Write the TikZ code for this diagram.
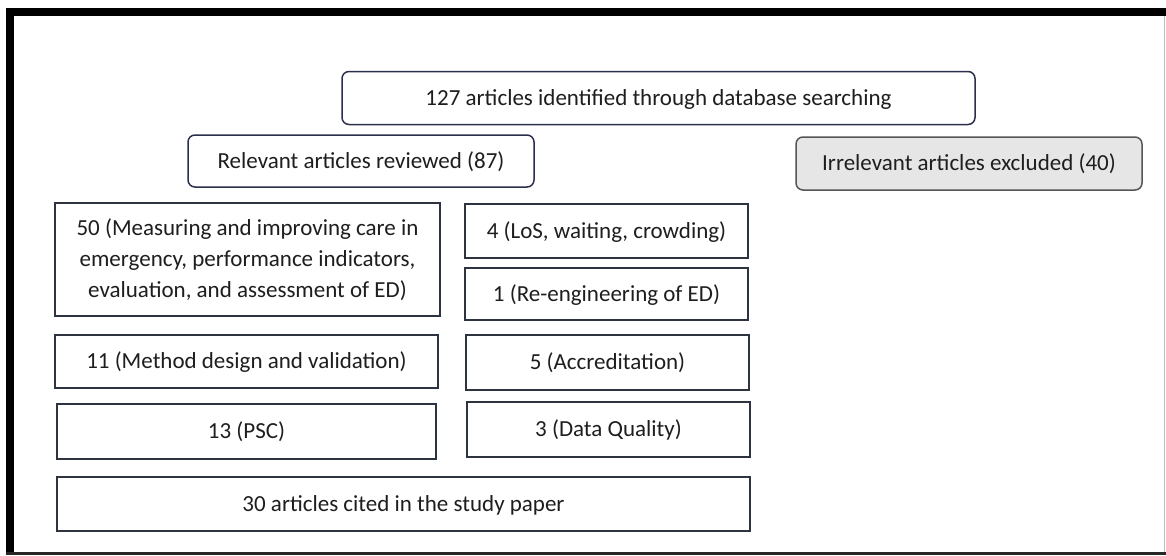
\documentclass[tikz,border=0pt]{standalone}
\usepackage{fontspec}
\setmainfont{Carlito}
\definecolor{navy}{HTML}{2B2F4C}
\definecolor{boxline}{HTML}{2E3340}
\definecolor{greyfill}{HTML}{E6E6E6}
\definecolor{greyline}{HTML}{555555}
\definecolor{txt}{HTML}{1E1E1E}
\tikzset{
  labeltext/.style={text=txt, inner sep=0pt, align=center,
    font=\fontsize{23}{31}\selectfont, text height=14.5pt, text depth=0pt},
  roundbox/.style={labeltext, draw=navy, line width=1.5pt, rounded corners=7pt, fill=white},
  greybox/.style={roundbox, draw=greyline, fill=greyfill},
  plainbox/.style={labeltext, draw=boxline, line width=1.5pt, fill=white},
}
\begin{document}
\begin{tikzpicture}[x=1pt, y=-1pt]
  \useasboundingbox (0,0) rectangle (1166,555);
  % frame around the chart
  \fill[black] (6,8) rectangle (1166,16);
  \fill[black] (6,8) rectangle (14,555);
  \fill[black!85] (6,552) rectangle (1166,555);
  \draw[black!25, line width=1.5pt] (1164.5,16) -- (1164.5,552);

  % screening stage
  \node[roundbox, minimum width=633pt, minimum height=53pt] (ident) at (658.5,98)
    {127 articles identified through database searching};
  \node[roundbox, minimum width=346pt, minimum height=52pt] (relev) at (361,161)
    {Relevant articles reviewed (87)};
  \node[greybox, minimum width=346pt, minimum height=53pt] (irrel) at (969,163.5)
    {Irrelevant articles excluded (40)};

  % categories of reviewed articles (three-line label: cap height plus two line steps)
  \node[plainbox, text height=76.5pt, minimum width=385pt, minimum height=113pt] (care) at (247.5,259.5)
    {50 (Measuring and improving care in\\emergency, performance indicators,\\evaluation, and assessment of ED)};
  \node[plainbox, minimum width=283pt, minimum height=54pt] (los) at (606.5,231)
    {4 (LoS, waiting, crowding)};
  \node[plainbox, minimum width=283pt, minimum height=52pt] (reeng) at (606.5,294)
    {1 (Re-engineering of ED)};
  \node[plainbox, minimum width=383pt, minimum height=53pt] (method) at (246.5,361.5)
    {11 (Method design and validation)};
  \node[plainbox, minimum width=283pt, minimum height=55pt] (accr) at (607.5,362.5)
    {5 (Accreditation)};
  \node[plainbox, minimum width=379pt, minimum height=55pt] (psc) at (246.5,431.5)
    {13 (PSC)};
  \node[plainbox, minimum width=283pt, minimum height=55pt] (dq) at (608.5,429.5)
    {3 (Data Quality)};

  % final selection
  \node[plainbox, minimum width=693pt, minimum height=54pt] (cited) at (403.5,504)
    {30 articles cited in the study paper};
\end{tikzpicture}
\end{document}
